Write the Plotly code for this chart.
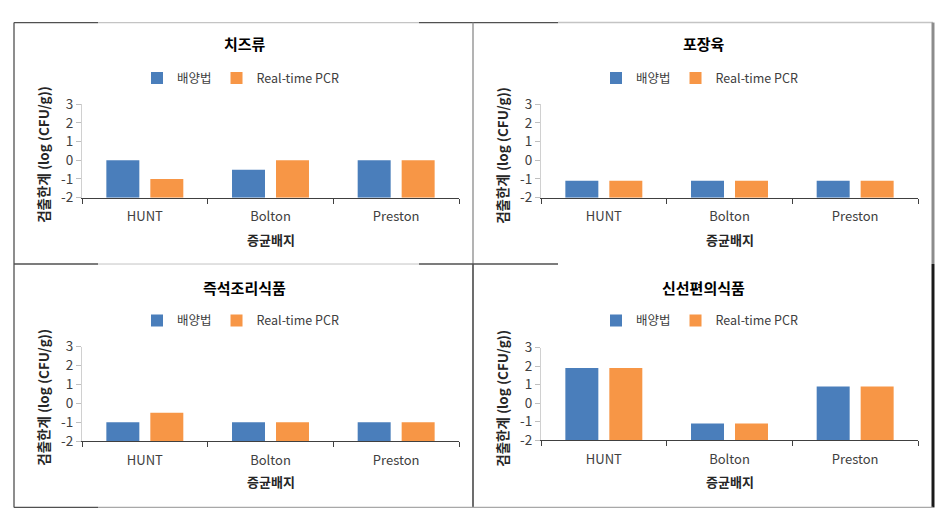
import plotly.graph_objects as go

# ---------------- data ----------------
categories = ["HUNT", "Bolton", "Preston"]
series_names = ["배양법", "Real-time PCR"]
panel_titles = ["치즈류", "포장육", "즉석조리식품", "신선편의식품"]

cheese_culture = [0.0, -0.5, 0.0]
cheese_pcr = [-1.0, 0.0, 0.0]
meat_culture = [-1.1, -1.1, -1.1]
meat_pcr = [-1.1, -1.1, -1.1]
ready_culture = [-1.0, -1.0, -1.0]
ready_pcr = [-0.5, -1.0, -1.0]
fresh_culture = [1.9, -1.1, 0.9]
fresh_pcr = [1.9, -1.1, 0.9]

y_tick_vals = [-2, -1, 0, 1, 2, 3]
y_tick_text = ["-2", "-1", "0", "1", "2", "3"]
y_title = "검출한계 (log (CFU/g))"
x_title = "증균배지"
axis_base = -2

# ---------------- styling ----------------
W, H = 950, 527
BLUE = "#4A7EBB"
ORANGE = "#F79646"
FONT = "Noto Sans CJK KR, Noto Sans, sans-serif"
DARK = "#505050"
LIGHT = "#C4C4C4"


def px(x):
    return x / W


def py(y):
    return 1 - y / H


# plot-area pixel boxes: (left, right, top, bottom)
boxes = [
    (82, 459, 97, 194),
    (541, 918, 97, 194),
    (82, 459, 349, 447),
    (541, 918, 350, 446),
]
title_y = [34, 34, 287, 287]
legend_y = [70, 70, 322, 322]
tick_title_y = [237, 237, 489, 489]

data_pairs = [
    (cheese_culture, cheese_pcr),
    (meat_culture, meat_pcr),
    (ready_culture, ready_pcr),
    (fresh_culture, fresh_pcr),
]

fig = go.Figure()
annotations = []
layout = {}

for i, ((culture, pcr), box) in enumerate(zip(data_pairs, boxes)):
    n = "" if i == 0 else str(i + 1)
    xa, ya = "x" + n, "y" + n
    leg = "legend" + n
    for vals, name, color in ((culture, series_names[0], BLUE), (pcr, series_names[1], ORANGE)):
        fig.add_trace(go.Bar(
            x=categories,
            y=[v - axis_base for v in vals],
            base=axis_base,
            name=name,
            marker=dict(color=color, line=dict(width=0)),
            xaxis=xa, yaxis=ya,
            legend=leg,
            showlegend=True,
        ))
    l, r, t, b = box
    layout["xaxis" + n] = dict(
        domain=[px(l), px(r)], anchor=ya, type="category",
        showline=True, linecolor="#404040", linewidth=1.3,
        ticks="outside", tickson="boundaries", ticklen=5, tickcolor="#404040",
        ticklabelstandoff=7,
        tickfont=dict(family=FONT, size=13, color="#404040"),
        showgrid=False, zeroline=False, fixedrange=True,
    )
    layout["yaxis" + n] = dict(
        domain=[py(b), py(t)], anchor=xa, range=[-2, 3],
        tickvals=y_tick_vals, ticktext=y_tick_text,
        showline=True, linecolor="#D0D0D0", linewidth=1,
        ticks="outside", ticklen=5, tickcolor="#BFBFBF",
        tickfont=dict(family=FONT, size=13.5, color="#404040"),
        showgrid=False, zeroline=False, fixedrange=True,
    )
    cx = (l + r) / 2
    layout[leg] = dict(
        orientation="h", x=px(cx - 30), xanchor="center",
        y=py(legend_y[i]), yanchor="middle",
        font=dict(family=FONT, size=12.5, color="#404040"),
        bgcolor="rgba(0,0,0,0)", itemwidth=30, tracegroupgap=0,
        traceorder="normal",
    )
    annotations.append(dict(
        text="<b>" + panel_titles[i] + "</b>", xref="paper", yref="paper",
        x=px(cx - 26), y=py(title_y[i]), xanchor="center", yanchor="middle",
        showarrow=False, font=dict(family=FONT, size=15, color="#000000"),
    ))
    annotations.append(dict(
        text="<b>" + x_title + "</b>", xref="paper", yref="paper",
        x=px(cx), y=py(tick_title_y[i]), xanchor="center", yanchor="middle",
        showarrow=False, font=dict(family=FONT, size=13, color="#262626"),
    ))
    annotations.append(dict(
        text="<b>" + y_title + "</b>", xref="paper", yref="paper",
        x=px(l - 39), y=py((t + b) / 2 + 4), xanchor="center", yanchor="middle",
        textangle=-90,
        showarrow=False, font=dict(family=FONT, size=13.5, color="#262626"),
    ))

# panel frame lines (pixel coordinates -> paper)
segments = [
    # (x0, y0, x1, y1, color, width)
    (14, 12, 98, 12, DARK, 1.3),
    (98, 12, 419, 12, LIGHT, 1.3),
    (419, 12, 558, 12, DARK, 1.3),
    (558, 12, 933, 12, LIGHT, 1.5),
    (14, 12, 14, 516, DARK, 1.3),
    (473, 12, 473, 263, "#8A8A8A", 1.3),
    (473, 263, 473, 516, "#202020", 1.3),
    (14, 263, 98, 263, DARK, 1.3),
    (98, 263, 419, 263, LIGHT, 1.0),
    (419, 263, 558, 263, DARK, 1.3),
    (933, 12, 933, 263, "#8C8C8C", 3),
    (933, 263, 933, 516, "#1A1A1A", 3),
    (14, 516, 98, 516, DARK, 1.3),
    (98, 516, 933, 516, "#A8A8A8", 1.3),
]
shapes = [
    dict(type="line", xref="paper", yref="paper",
         x0=px(x0), y0=py(y0), x1=px(x1), y1=py(y1),
         line=dict(color=c, width=w))
    for x0, y0, x1, y1, c, w in segments
]

fig.update_layout(
    width=W, height=H,
    margin=dict(l=0, r=0, t=0, b=0),
    paper_bgcolor="white", plot_bgcolor="white",
    barmode="group", bargap=0.30, bargroupgap=0.25,
    font=dict(family=FONT),
    annotations=annotations,
    shapes=shapes,
    **layout,
)

fig.write_html(
    "out.html",
    config={"displayModeBar": False},
    post_script="document.body.style.margin='0';document.body.style.overflow='hidden';",
)
